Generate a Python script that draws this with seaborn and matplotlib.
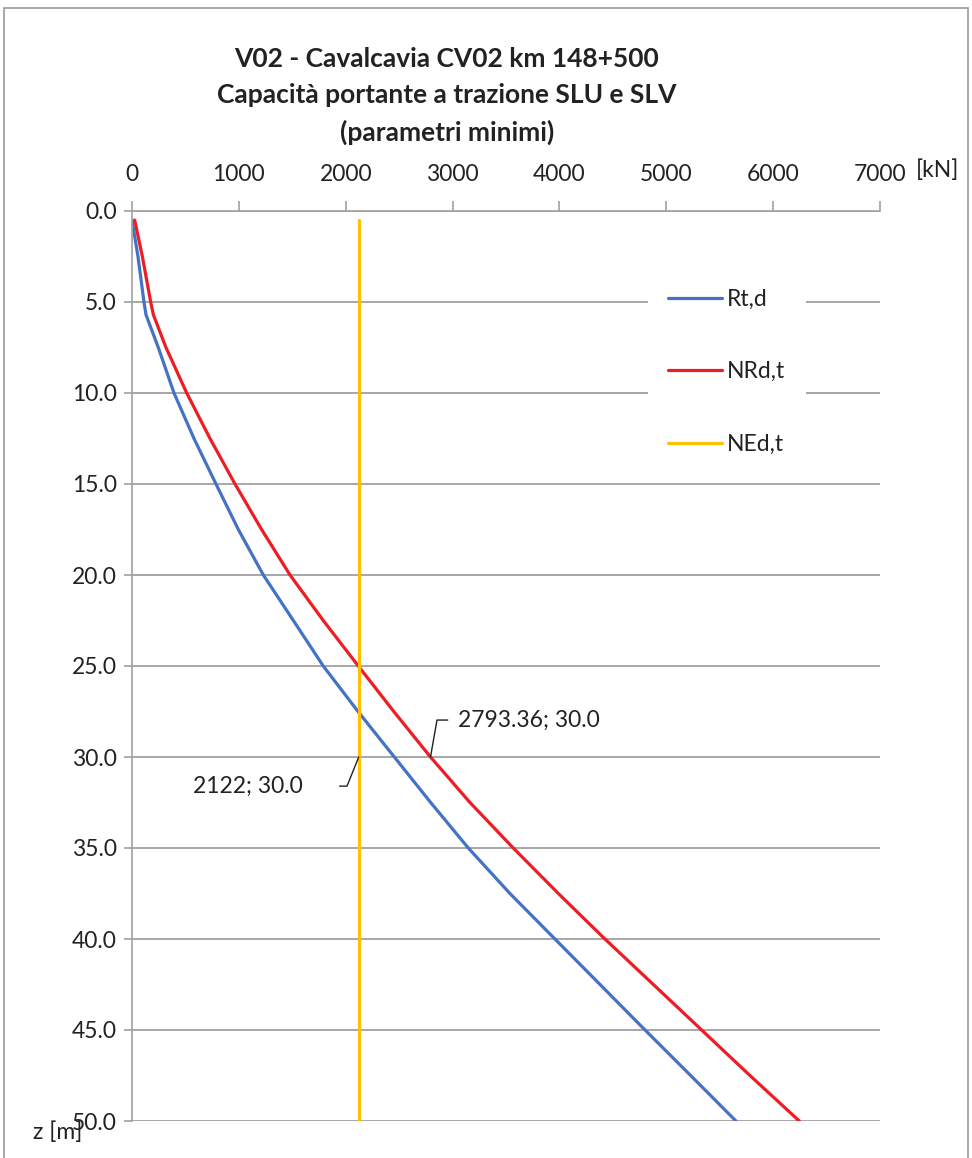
import numpy as np
import pandas as pd
import seaborn as sns
import matplotlib.pyplot as plt
from matplotlib.patches import Rectangle

# profondità [m]
z = [0.5, 2.5, 5.0, 5.7, 7.5, 10.0, 12.5, 15.0, 17.5, 20.0, 22.5, 25.0, 27.5,
     30.0, 32.5, 35.0, 37.5, 40.0, 42.5, 45.0, 47.5, 50.0]
# Rt,d [kN]
rt_d = [0, 56, 112, 131, 246, 393, 580, 786, 995, 1229, 1510, 1790, 2115,
        2455, 2795, 3147, 3537, 3958, 4380, 4801, 5228, 5652]
# NRd,t [kN]
nrd_t = [25, 97, 175, 200, 318, 512, 730, 964, 1213, 1479, 1790, 2118, 2450,
         2793.36, 3163, 3568, 3990, 4426, 4879, 5331, 5783, 6245]
# NEd,t [kN]
ned_t = [2122] * len(z)

x_ticks = [0, 1000, 2000, 3000, 4000, 5000, 6000, 7000]
y_ticks = [0, 5, 10, 15, 20, 25, 30, 35, 40, 45, 50]

sns.set_style("white")
plt.rcParams['font.family'] = ['Lato', 'DejaVu Sans']

grey = '#a0a0a0'
fig = plt.figure(figsize=(9.72, 11.58), dpi=100)
ax = fig.add_axes([132/972, 1 - 1121/1158, 748/972, 910/1158])

sns.lineplot(x=rt_d, y=z, sort=False, estimator=None, color='#4472C4', linewidth=2.3, label='Rt,d', ax=ax)
sns.lineplot(x=nrd_t, y=z, sort=False, estimator=None, color='#EE1C25', linewidth=2.3, label='NRd,t', ax=ax)
sns.lineplot(x=ned_t, y=z, sort=False, estimator=None, color='#FFC000', linewidth=2.3, label='NEd,t', ax=ax)

ax.set_xlim(0, 7000)
ax.set_ylim(50, 0)
ax.xaxis.tick_top()
ax.set_xticks(x_ticks)
ax.set_yticks(y_ticks)
ax.set_yticklabels([f'{v:.1f}' for v in y_ticks])
ax.set_xlabel('')
ax.set_ylabel('')
ax.tick_params(axis='x', top=True, bottom=False, length=7, width=1.2, color=grey, pad=12, labelsize=16.5, labelcolor='#222222')
ax.tick_params(axis='y', left=True, length=6, width=1.2, color=grey, pad=5, labelsize=16.5, labelcolor='#222222')
ax.grid(axis='y', color=grey, linewidth=1.3)
ax.grid(axis='x', visible=False)
for s in ['right', 'bottom']:
    ax.spines[s].set_visible(False)
for s in ['left', 'top']:
    ax.spines[s].set_color(grey)
    ax.spines[s].set_linewidth(1.2)

leg = ax.legend(loc='upper left', bbox_to_anchor=(0.674, 0.95), frameon=True, fontsize=16.5,
                handlelength=2.36, labelspacing=2.25, handletextpad=0.2, borderpad=0.9)
leg.get_frame().set_facecolor('white')
leg.get_frame().set_edgecolor('none')
leg.get_frame().set_alpha(1)
leg.get_frame().set_boxstyle('square', pad=0)
for t in leg.get_texts():
    t.set_color('#222222')

ax.annotate('2793.36; 30.0', xy=(2793.36, 30.0), xytext=(3050, 27.97), ha='left', va='center',
            fontsize=16.5, color='#222222',
            arrowprops=dict(arrowstyle='-', color='#222222', lw=1, relpos=(0, 0.5), shrinkA=5, shrinkB=0,
                            connectionstyle='angle,angleA=0,angleB=80,rad=0'))
ax.annotate('2122; 30.0', xy=(2122, 30.0), xytext=(1600, 31.6), ha='right', va='center',
            fontsize=16.5, color='#222222',
            arrowprops=dict(arrowstyle='-', color='#222222', lw=1, relpos=(1, 0.5), shrinkA=24, shrinkB=0,
                            connectionstyle='angle,angleA=0,angleB=68,rad=0'))

fig.text(447/972, 1 - 96/1158, 'V02 - Cavalcavia CV02 km 148+500\nCapacità portante a trazione SLU e SLV\n(parametri minimi)',
         ha='center', va='center', fontsize=19, fontweight='bold', color='#222222', linespacing=1.6)
fig.text(916/972, 1 - 170/1158, '[kN]', ha='left', va='center', fontsize=16.5, color='#222222')
fig.text(33/972, 1 - 1132/1158, 'z [m]', ha='left', va='center', fontsize=16.5, color='#222222')

fig.add_artist(Rectangle((4/972, -0.02), 964/972, 1.02 - 8/1158, transform=fig.transFigure,
                         fill=False, edgecolor='#999999', linewidth=1.2))

fig.savefig('out.png', dpi=100)
